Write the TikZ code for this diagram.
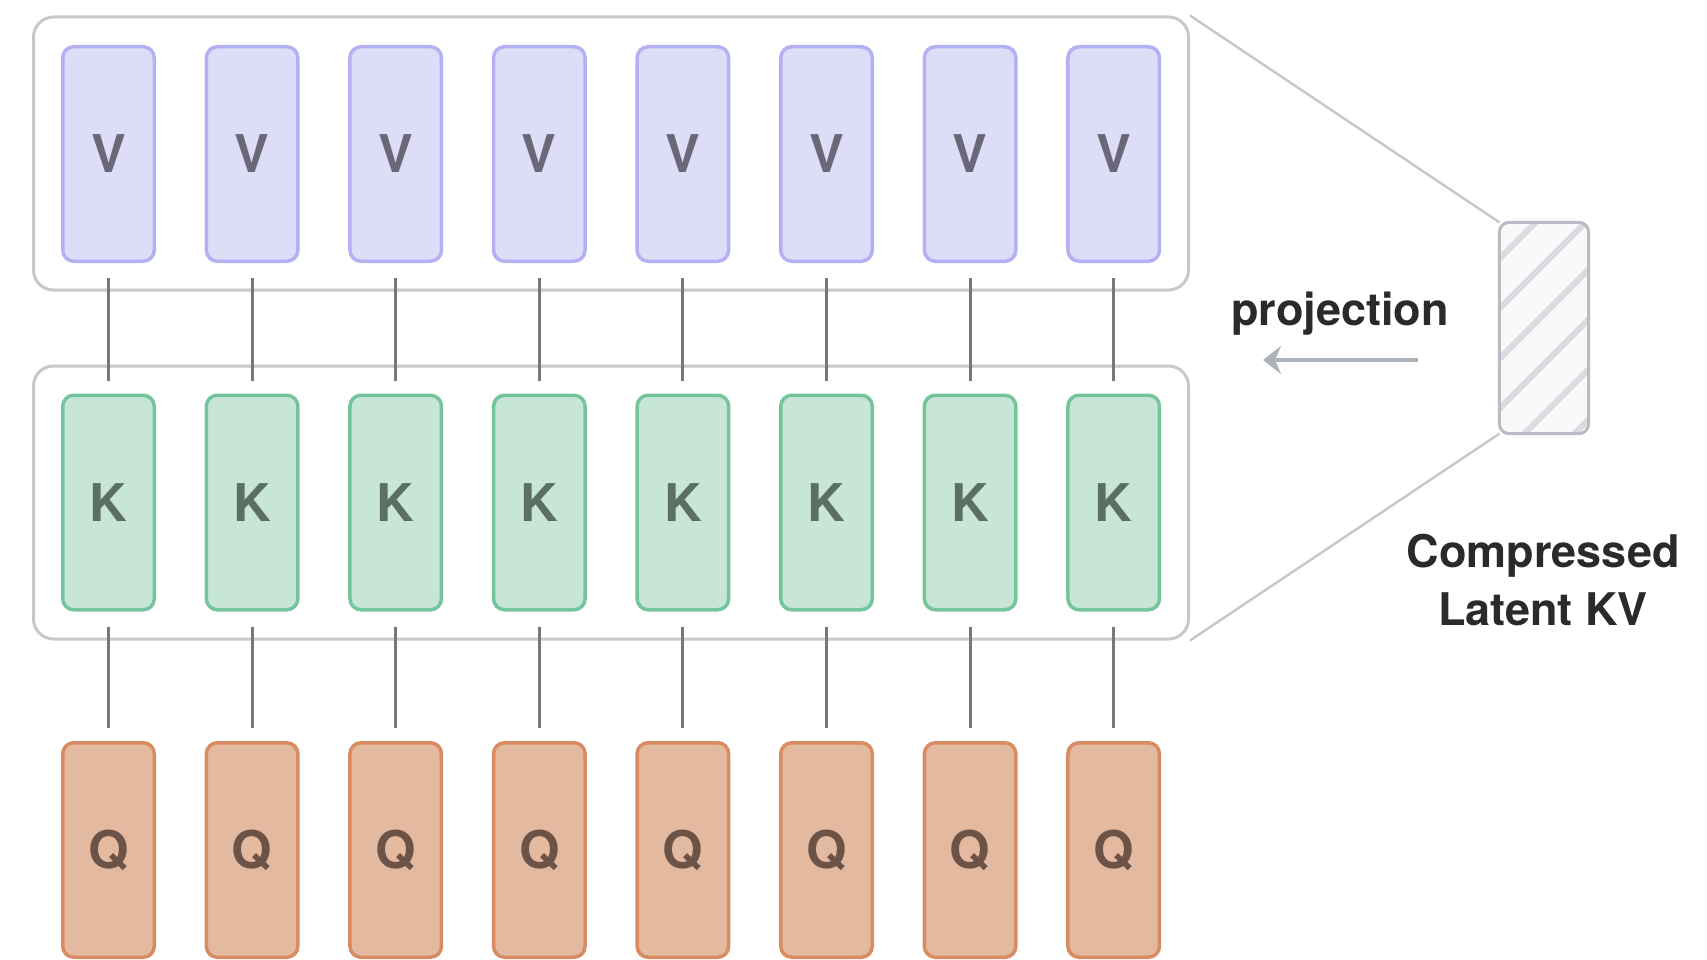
\documentclass[tikz,border=0pt]{standalone}
\usepackage{fontspec}
\setmainfont{TeX Gyre Heros}
\usetikzlibrary{arrows.meta}
\definecolor{vfill}{HTML}{DEDDF8}
\definecolor{vline}{HTML}{B4B1F2}
\definecolor{vtext}{HTML}{6A6878}
\definecolor{kfill}{HTML}{C7E6D8}
\definecolor{kline}{HTML}{74C49C}
\definecolor{ktext}{HTML}{5C6F65}
\definecolor{qfill}{HTML}{E3BA9F}
\definecolor{qline}{HTML}{D98C63}
\definecolor{qtext}{HTML}{6B5347}
\definecolor{framec}{HTML}{C5C9CE}
\definecolor{linkc}{HTML}{787878}
\definecolor{latline}{HTML}{B8BDC3}
\definecolor{latfill}{HTML}{F9F9FA}
\definecolor{hatchc}{HTML}{D8DBDF}
\definecolor{arrowc}{HTML}{AAB2BC}
\definecolor{txtc}{HTML}{2A2A2A}
\begin{document}
\begin{tikzpicture}[x=1pt,y=-1pt,
  headbox/.style={draw, line width=3.5pt, rounded corners=11pt, minimum width=91.5pt,
    minimum height=214.5pt, inner sep=0pt, font=\fontsize{52}{52}\selectfont\bfseries},
  vbox/.style={headbox, fill=vfill, draw=vline, text=vtext},
  kbox/.style={headbox, fill=kfill, draw=kline, text=ktext},
  qbox/.style={headbox, fill=qfill, draw=qline, text=qtext},
  container/.style={draw=framec, line width=3pt, rounded corners=20pt,
    minimum width=1155pt, minimum height=273pt, inner sep=0pt},
  link/.style={draw=linkc, line width=3pt, shorten <=15pt, shorten >=13pt},
  zoomline/.style={draw=framec, line width=2.5pt},
  label/.style={text=txtc, font=\fontsize{45}{58}\selectfont\bfseries, inner sep=0pt}
]
\useasboundingbox (0,0) rectangle (1707,960);

\node[container] (vc) at (611,153.5) {};
\node[container] (kc) at (611,502.5) {};

\foreach \i in {1,...,8}{
  \pgfmathsetmacro{\xx}{108.5+143.6*(\i-1)}
  \node[vbox] (v\i) at (\xx,154) {V};
  \node[kbox] (k\i) at (\xx,502.5) {K};
  \node[qbox] (q\i) at (\xx,850) {Q};
}
\foreach \i in {1,...,8}{
  \draw[link] (v\i.south) -- (k\i.north);
  \draw[link] (k\i.south) -- (q\i.north);
}

% latent box
\node[fill=latfill, rounded corners=10pt, minimum width=89pt, minimum height=211pt, inner sep=0pt] (lat) at (1544,328) {};
\begin{scope}
  \clip[rounded corners=10pt] (lat.north west) rectangle (lat.south east);
  \foreach \j in {-5,...,7}{
    \draw[hatchc, line width=6pt] (1480,328+\j*50) -- ++(130,-130);
  }
\end{scope}
\draw[latline, line width=3pt, rounded corners=10pt] (lat.north west) rectangle (lat.south east);

\draw[zoomline] (vc.north east) -- (lat.north west);
\draw[zoomline] (kc.south east) -- (lat.south west);

\node[label, anchor=base] (proj) at (1340,325) {projection};
\coordinate (pa) at (1418,360);
\coordinate (pb) at (1263,360);
\draw[arrowc, line width=4pt, -{Stealth[length=18pt,width=28pt,inset=6pt]}] (pa) -- (pb);

\node[label, align=center, anchor=base] (cap) at (1543,625) {Compressed\\Latent KV};
\end{tikzpicture}
\end{document}
